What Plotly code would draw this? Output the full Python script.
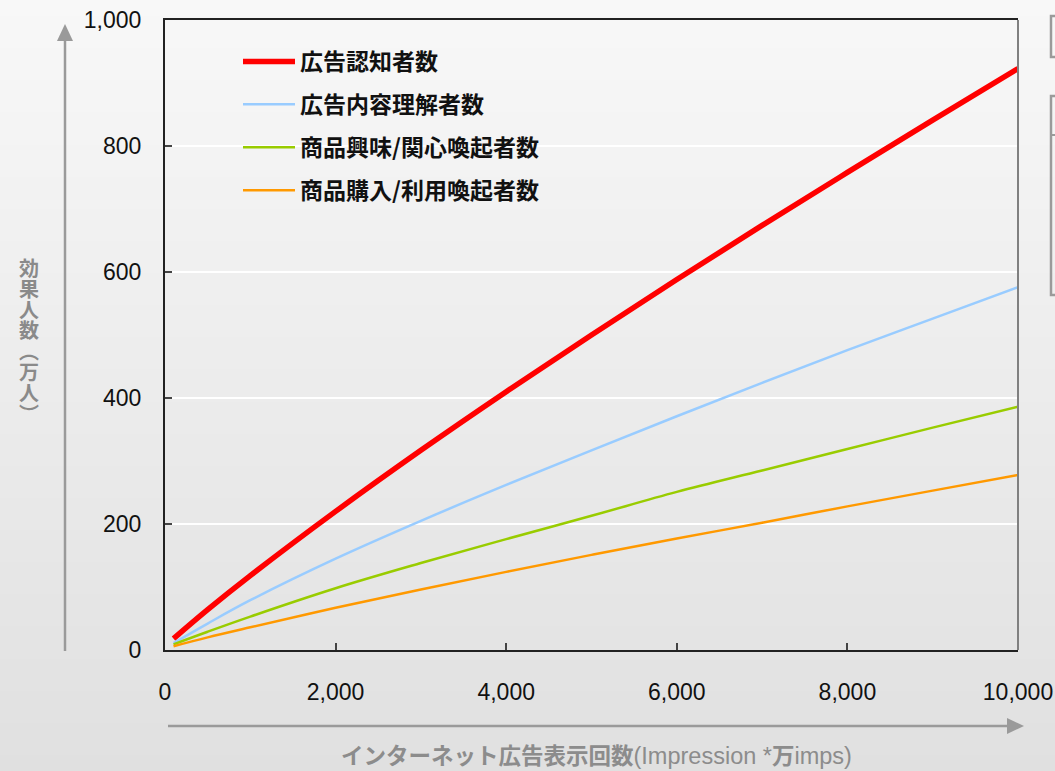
import plotly.graph_objects as go

# ---------------- data ----------------
impressions = [100, 500, 1000, 2000, 3000, 4000, 5000, 6000, 7000, 8000, 9000, 10000]
series_names = ["広告認知者数", "広告内容理解者数", "商品興味/関心喚起者数", "商品購入/利用喚起者数"]
awareness = [18, 64, 118, 220, 317, 410, 500, 588, 674, 758, 841, 923]
understanding = [11, 42, 79, 145, 205, 262, 317, 371, 424, 476, 526, 576]
interest = [9, 29, 53, 98, 138, 176, 213, 251, 285, 319, 353, 386]
purchase = [6, 20, 36, 67, 96, 124, 151, 177, 202, 228, 253, 278]
x_ticks = [0, 2000, 4000, 6000, 8000, 10000]
x_tick_labels = ["0", "2,000", "4,000", "6,000", "8,000", "10,000"]
y_ticks = [0, 200, 400, 600, 800, 1000]
y_tick_labels = ["0", "200", "400", "600", "800", "1,000"]
y_title_chars = ["効", "果", "人", "数", "︵", "万", "人", "︶"]

# ---------------- layout geometry ----------------
W, H = 1055, 771
L, R, T, B = 165, 1018, 20, 650
PW, PH = R - L, B - T

def px(x):
    return (x - L) / PW

def py(y):
    return (B - y) / PH

colors = ["#ff0000", "#99ccff", "#99cc00", "#ff9900"]
widths = [5.5, 2.5, 2.5, 2.5]
values = [awareness, understanding, interest, purchase]

fig = go.Figure()
for i, (name, vals) in enumerate(zip(series_names, values)):
    fig.add_trace(go.Scatter(
        x=impressions, y=vals, mode="lines", name="<b>" + name + "</b>",
        line=dict(color=colors[i], width=widths[i], shape="spline", smoothing=1.0),
        legendgroup="g%d" % i,
    ))

shapes = []
# background gradient
n = 48
top_c = (248, 248, 248)
bot_c = (224, 224, 224)
for k in range(n):
    y0 = k * H / n
    y1 = (k + 1) * H / n + 1
    t = (k + 0.5) / n
    c = tuple(int(round(top_c[j] + (bot_c[j] - top_c[j]) * t)) for j in range(3))
    shapes.append(dict(type="rect", xref="paper", yref="paper",
                       x0=px(0), x1=px(W), y0=py(y0), y1=py(y1),
                       fillcolor="rgb(%d,%d,%d)" % c, line=dict(width=0), layer="below"))

gray = "#9a9a9a"
# y-axis arrow
shapes.append(dict(type="line", xref="paper", yref="paper",
                   x0=px(65), x1=px(65), y0=py(651), y1=py(38),
                   line=dict(color=gray, width=2.5)))
shapes.append(dict(type="path", xref="paper", yref="paper",
                   path="M %f %f L %f %f L %f %f Z" % (px(57), py(41), px(65), py(24), px(73), py(41)),
                   fillcolor=gray, line=dict(width=0)))
# x-axis arrow
shapes.append(dict(type="line", xref="paper", yref="paper",
                   x0=px(168), x1=px(1010), y0=py(726), y1=py(726),
                   line=dict(color=gray, width=2.5)))
shapes.append(dict(type="path", xref="paper", yref="paper",
                   path="M %f %f L %f %f L %f %f Z" % (px(1007), py(718), px(1024), py(726), px(1007), py(734)),
                   fillcolor=gray, line=dict(width=0)))
# right border of plot (gray)
shapes.append(dict(type="line", xref="paper", yref="paper",
                   x0=1, x1=1, y0=0, y1=1, line=dict(color="#808080", width=2)))
# partial boxes at the right edge
shapes.append(dict(type="rect", xref="paper", yref="paper",
                   x0=px(1051), x1=px(1070), y0=py(16), y1=py(57),
                   line=dict(color=gray, width=2.5), fillcolor="rgba(0,0,0,0)"))
shapes.append(dict(type="rect", xref="paper", yref="paper",
                   x0=px(1051), x1=px(1070), y0=py(96), y1=py(295),
                   line=dict(color=gray, width=2.5), fillcolor="rgba(0,0,0,0)"))
shapes.append(dict(type="line", xref="paper", yref="paper",
                   x0=px(1051), x1=px(1070), y0=py(135), y1=py(135),
                   line=dict(color=gray, width=2)))

y_title_text = "<br>".join(
    "<span style='font-size:20px'><b>%s</b></span>" % ch for ch in y_title_chars)

annotations = [
    dict(xref="paper", yref="paper", x=px(29), y=py(340),
         text=y_title_text,
         showarrow=False, xanchor="center", yanchor="middle", align="center",
         font=dict(family="Noto Sans CJK JP", size=16, color="#8a8a8a")),
    dict(xref="paper", yref="paper", x=px(596), y=py(754),
         text="<b>インターネット広告表示回数</b>"
              "<span style='font-family:Liberation Sans;font-size:23.5px'>(Impression *</span>"
              "<b>万</b><span style='font-family:Liberation Sans;font-size:23.5px'>imps)</span>",
         showarrow=False, xanchor="center", yanchor="middle",
         font=dict(family="Noto Sans CJK JP", size=22.5, color="#8c8c8c")),
]

fig.update_layout(
    width=W, height=H,
    margin=dict(l=L, r=W - R, t=T, b=H - B, pad=0, autoexpand=False),
    paper_bgcolor="#eeeeee",
    plot_bgcolor="rgba(0,0,0,0)",
    shapes=shapes,
    annotations=annotations,
    showlegend=True,
    legend=dict(x=px(238), y=py(40), xanchor="left", yanchor="top",
                bgcolor="rgba(0,0,0,0)", tracegroupgap=10,
                font=dict(family="Noto Sans CJK JP", size=23, color="#111111"),
                itemwidth=52),
    xaxis=dict(range=[0, 10000], tickvals=x_ticks, ticktext=x_tick_labels,
               showgrid=False, zeroline=False, automargin=False,
               showline=True, linecolor="#222222", linewidth=2, mirror=True,
               ticks="inside", ticklen=7, tickcolor="#444444", tickwidth=1.5,
               ticklabelstandoff=20,
               tickfont=dict(family="Liberation Sans", size=23, color="#111111")),
    yaxis=dict(range=[0, 1000], tickvals=y_ticks, ticktext=y_tick_labels,
               showgrid=True, gridcolor="#ffffff", gridwidth=1.5, zeroline=False,
               automargin=False,
               showline=True, linecolor="#222222", linewidth=2,
               ticks="inside", ticklen=7, tickcolor="#444444", tickwidth=1.5,
               ticklabelstandoff=17,
               tickfont=dict(family="Liberation Sans", size=23, color="#111111")),
)

fig.write_html("out.html", config={"displayModeBar": False},
               post_script="document.body.style.margin='0px';document.body.style.overflow='hidden';")
